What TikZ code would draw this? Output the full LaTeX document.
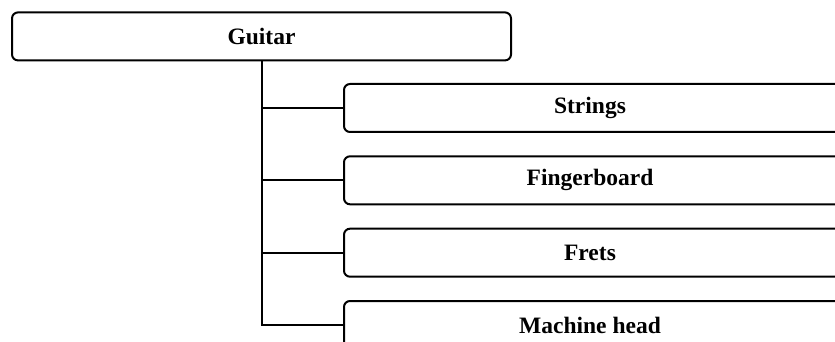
\documentclass[tikz,border=0pt]{standalone}
\usepackage{fontspec}
\setmainfont{Liberation Serif}
\begin{document}
\begin{tikzpicture}[x=1pt,y=-1pt,
  boxfont/.style={font=\fontsize{23.5}{28}\selectfont\bfseries},
  box/.style={draw=black,line width=2pt,rounded corners=6pt,
    minimum height=48pt,inner sep=0pt,boxfont},
  parentbox/.style={box,minimum width=499pt},
  % child boxes run past the right edge; their titles sit at x=590
  childbox/.style={box,minimum width=500pt,
    label={[boxfont,xshift=-4pt]center:#1}},
  link/.style={draw=black,line width=2pt}]
\useasboundingbox (0,0) rectangle (835,342);
\clip (0,0) rectangle (835,342);
\node[parentbox] (guitar) at (261.5,36.4) {Guitar};
\node[childbox=Strings] (strings) at (594,108) {};
\node[childbox=Fingerboard] (finger) at (594,180.3) {};
\node[childbox=Frets] (frets) at (594,252.7) {};
\node[childbox=Machine head] (machine) at (594,325) {};
\draw[link] (guitar.south) |- (strings.west);
\draw[link] (guitar.south) |- (finger.west);
\draw[link] (guitar.south) |- (frets.west);
\draw[link] (guitar.south) |- (machine.west);
\end{tikzpicture}
\end{document}
